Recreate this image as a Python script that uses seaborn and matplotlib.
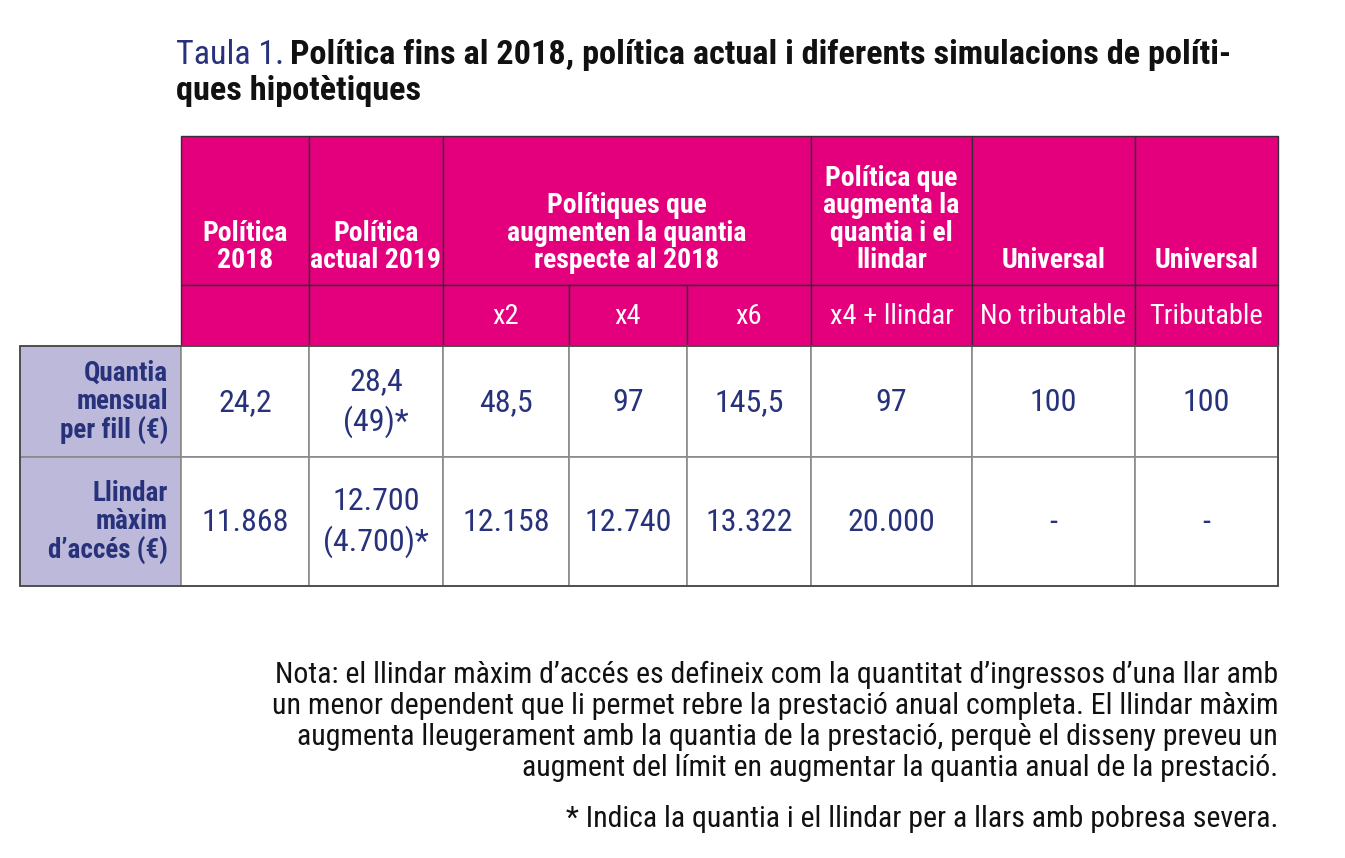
import matplotlib
matplotlib.use("Agg")
import matplotlib.pyplot as plt
import seaborn as sns
from matplotlib.patches import Rectangle

sns.set_theme(style="white")
plt.rcParams["font.family"] = ["Roboto Condensed", "Liberation Sans", "DejaVu Sans"]

MAGENTA = "#E4007C"
LAVENDER = "#BDB9DB"
NAVY = "#27327A"

title_prefix = "Taula 1."
title_main = ["Política fins al 2018, política actual i diferents simulacions de políti-",
              "ques hipotètiques"]

group_labels = ["Política\n2018", "Política\nactual 2019",
                "Polítiques que\naugmenten la quantia\nrespecte al 2018",
                "Política que\naugmenta la\nquantia i el\nllindar",
                "Universal", "Universal"]
group_span = [1, 1, 3, 1, 1, 1]
sub_labels = ["", "", "x2", "x4", "x6", "x4 + llindar", "No tributable", "Tributable"]
row_labels = ["Quantia\nmensual\nper fill (€)", "Llindar\nmàxim\nd’accés (€)"]
quantia = ["24,2", "28,4\n(49)*", "48,5", "97", "145,5", "97", "100", "100"]
llindar = ["11.868", "12.700\n(4.700)*", "12.158", "12.740", "13.322", "20.000", "-", "-"]

nota = ["Nota: el llindar màxim d’accés es defineix com la quantitat d’ingressos d’una llar amb",
        "un menor dependent que li permet rebre la prestació anual completa. El llindar màxim",
        "augmenta lleugerament amb la quantia de la prestació, perquè el disseny preveu un",
        "augment del límit en augmentar la quantia anual de la prestació.",
        "* Indica la quantia i el llindar per a llars amb pobresa severa."]

# layout in pixels
col_x = [181, 309, 443, 569, 687, 811, 972, 1135, 1278]
row_head_x = 20
y_top, y_sub, y_r1, y_r2, y_bot = 136, 285, 346, 457, 586
nota_y = [683, 714, 745, 776, 827]

fig = plt.figure(figsize=(13.45, 8.58), dpi=100)
ax = fig.add_axes([0, 0, 1, 1])
ax.set_xlim(0, 1345)
ax.set_ylim(858, 0)
ax.axis("off")

HEAD_LINE = "#3a2a3a"
BODY_LINE = "#8a8a8a"

# group header cells
ci = 0
for lab, span in zip(group_labels, group_span):
    x0, x1 = col_x[ci], col_x[ci + span]
    ax.add_patch(Rectangle((x0, y_top), x1 - x0, y_sub - y_top, facecolor=MAGENTA,
                           edgecolor=HEAD_LINE, lw=1))
    ax.text((x0 + x1) / 2, 274, lab, ha="center", va="bottom", color="white",
            fontsize=20, fontweight="bold", linespacing=1.02)
    ci += span

# sub header cells
for i, lab in enumerate(sub_labels):
    x0, x1 = col_x[i], col_x[i + 1]
    ax.add_patch(Rectangle((x0, y_sub), x1 - x0, y_r1 - y_sub, facecolor=MAGENTA,
                           edgecolor=HEAD_LINE, lw=1))
    ax.text((x0 + x1) / 2, (y_sub + y_r1) / 2 + 1, lab, ha="center", va="center",
            color="white", fontsize=20.5)

# body rows
for (ya, yb), rlab, vals in zip([(y_r1, y_r2), (y_r2, y_bot)], row_labels, [quantia, llindar]):
    ax.add_patch(Rectangle((row_head_x, ya), col_x[0] - row_head_x, yb - ya,
                           facecolor=LAVENDER, edgecolor=BODY_LINE, lw=1.2))
    ax.text(168, (ya + yb) / 2 + 1, rlab, ha="right", va="center", color=NAVY,
            fontsize=19.5, fontweight="bold", linespacing=1.08)
    for i, v in enumerate(vals):
        x0, x1 = col_x[i], col_x[i + 1]
        ax.add_patch(Rectangle((x0, ya), x1 - x0, yb - ya, facecolor="white",
                               edgecolor=BODY_LINE, lw=1.2))
        ax.text((x0 + x1) / 2, (ya + yb) / 2 + 1, v, ha="center", va="center",
                color=NAVY, fontsize=23, linespacing=1.35)

# outer border of body
ax.add_patch(Rectangle((row_head_x, y_r1), col_x[-1] - row_head_x, y_bot - y_r1,
                       fill=False, edgecolor="#444444", lw=1.2))

# title
fig.canvas.draw()
r = fig.canvas.get_renderer()
t = ax.text(176, 64, title_prefix, ha="left", va="baseline", color=NAVY, fontsize=24.5)
bb = t.get_window_extent(renderer=r)
x_end = ax.transData.inverted().transform((bb.x1, bb.y0))[0]
ax.text(x_end + 6, 64, title_main[0], ha="left", va="baseline", color="#111111",
        fontsize=24.7, fontweight="bold")
ax.text(176, 100, title_main[1], ha="left", va="baseline", color="#111111",
        fontsize=24.7, fontweight="bold")

# notes
for line, y in zip(nota, nota_y):
    ax.text(1278, y, line, ha="right", va="baseline", color="#111111", fontsize=21.5)

fig.savefig("out.png", dpi=100)
